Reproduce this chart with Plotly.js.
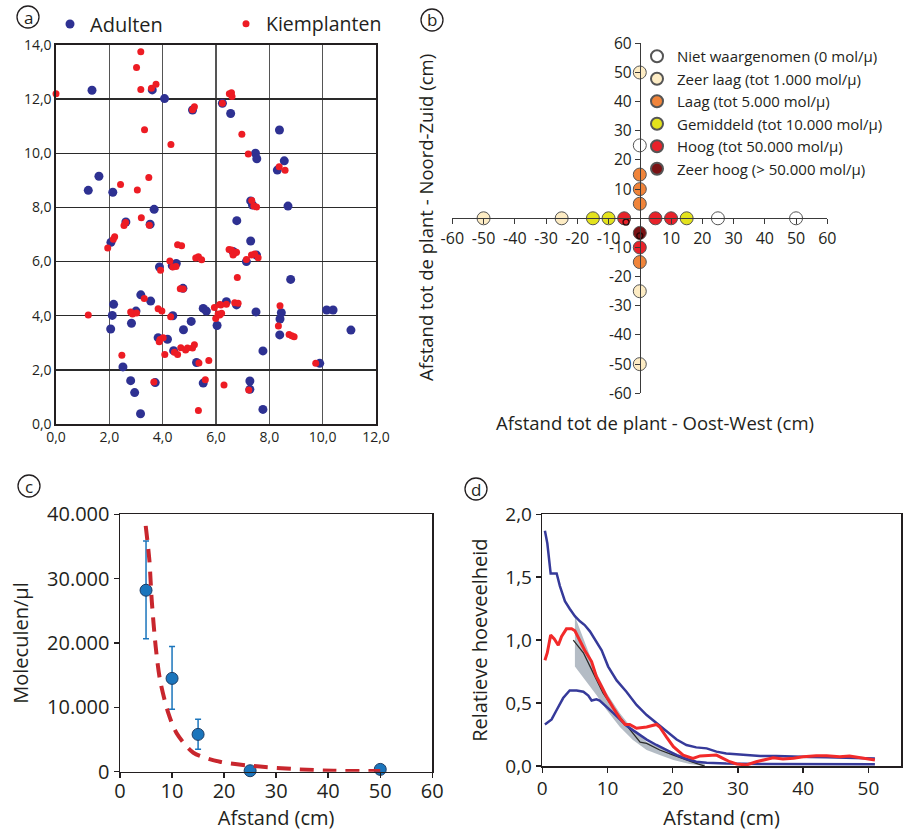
<!DOCTYPE html>
<html>
<head>
<meta charset="utf-8">
<script src="https://cdn.plot.ly/plotly-3.0.1.min.js"></script>
<style>html,body{margin:0;padding:0;background:#fff;}#chart{width:911px;height:833px;}</style>
</head>
<body>
<div id="chart"></div>
<script>
// ---------- Panel a: positions of adults and seedlings ----------
const adultX = [1.35,3.61,4.07,6.24,6.55,5.12,1.61,1.21,2.13,3.68,3.53,2.62,8.38,7.48,7.53,8.56,8.3,7.3,7.37,8.7,6.78,2.06,3.88,4.36,4.51,4.76,3.18,3.55,2.16,2.11,2.05,3.0,2.83,4.38,5.07,4.78,3.83,4.18,4.41,5.27,2.51,2.8,2.95,3.72,5.52,3.17,6.39,5.52,5.64,6.04,7.3,6.64,7.52,7.14,8.8,6.77,7.5,8.45,8.4,8.39,10.15,10.39,11.06,7.76,9.89,7.27,7.27,7.76];
const adultY = [12.33,12.34,12.02,11.85,11.47,11.6,9.15,8.63,8.56,7.93,7.38,7.46,10.86,10.0,9.8,9.72,9.38,8.24,8.09,8.05,7.51,6.71,5.8,5.85,5.93,5.01,4.77,4.54,4.42,4.01,3.51,4.17,3.72,4.0,3.79,3.48,3.19,3.13,2.71,2.27,2.11,1.6,1.16,1.53,1.51,0.38,4.52,4.27,4.17,3.64,6.76,6.37,6.24,6.0,5.34,4.4,4.14,4.11,3.88,3.29,4.21,4.21,3.47,2.7,2.24,1.59,1.28,0.54];
const seedX = [0.0,3.18,3.02,3.18,3.58,3.75,3.32,4.31,5.12,5.19,6.24,6.5,6.58,6.6,2.42,3.05,3.48,6.97,7.21,8.37,8.59,7.34,7.42,7.52,2.61,2.55,3.2,3.5,2.2,2.15,1.94,4.56,4.71,3.92,4.27,4.38,4.5,5.24,5.34,5.46,4.66,4.77,3.31,1.21,2.8,2.87,3.02,3.83,3.97,4.3,3.87,4.02,3.9,4.08,4.44,4.56,4.68,4.86,4.93,5.12,5.19,5.36,5.73,2.47,3.67,5.6,5.34,5.94,6.14,6.21,6.14,5.99,6.08,6.3,6.49,6.58,6.64,6.7,6.77,7.33,7.45,7.58,7.14,6.8,6.7,6.83,6.39,6.18,8.4,8.34,8.74,8.84,8.93,9.74,7.23];
const seedY = [12.2,13.75,13.17,12.36,12.4,12.55,10.87,10.32,11.61,11.72,11.85,12.2,12.24,12.1,8.85,8.64,9.11,10.7,9.97,9.5,9.37,8.26,8.05,8.02,7.44,7.33,7.62,7.34,6.92,6.82,6.5,6.62,6.58,5.68,6.02,5.8,5.82,6.13,6.18,6.07,5.0,4.99,4.64,4.03,4.14,4.06,4.1,4.26,4.17,3.96,3.04,3.19,3.12,2.57,2.65,2.57,2.82,2.73,2.81,2.81,2.93,2.25,2.35,2.54,1.55,1.63,0.5,4.3,4.41,4.09,4.03,3.9,4.06,1.44,6.45,6.43,6.24,6.31,6.34,6.24,6.28,6.14,6.08,5.41,4.48,4.46,4.42,4.4,4.37,3.62,3.31,3.26,3.22,2.24,1.26];
const aTicksX = [0,2,4,6,8,10,12];
const aTicksY = [0,2,4,6,8,10,12,14];

// ---------- Panel b: concentration classes along two transects ----------
const bNames = ['Niet waargenomen (0 mol/µ)','Zeer laag (tot 1.000 mol/µ)','Laag (tot 5.000 mol/µ)','Gemiddeld (tot 10.000 mol/µ)','Hoog (tot 50.000 mol/µ)','Zeer hoog (> 50.000 mol/µ)'];
const bX = [[0,25,50],[0,-50,-25,0,0],[0,0,0,0],[-15,-10,15],[-5,5,10,0],[0]];
const bY = [[25,0,0],[50,0,0,-25,-50],[15,10,5,-15],[0,0,0],[0,0,0,-10],[-5]];
const bSmallX = [-4.4,0];
const bSmallY = [-1.3,-6];
const bTicks = [-60,-50,-40,-30,-20,-10,10,20,30,40,50,60];
const bTickText = ['-60','-50','-40','-30','-20','-10','10','20','30','40','50','60'];

// ---------- Panel c: molecules vs distance ----------
const cDist = [5,10,15,25,50];
const cMean = [28200,14500,5800,150,360];
const cErrPlus = [7650,4950,2350,0,0];
const cErrMinus = [7550,4800,2300,0,0];
const cFitX = [4.94,5.64,6.09,6.86,7.69,9.3,10.9,14.1,19.2,25.6,34.6,41,50];
const cFitY = [38200,32900,26700,19400,14250,9065,5960,2950,1550,880,360,155,100];
const cTicksY = [0,10000,20000,30000,40000];

// ---------- Panel d: relative amount vs distance ----------
const dUpperX = [0.4,0.77,1.28,2.2,2.7,3.47,4.2,5.0,5.77,6.5,7.3,8.3,9.1,10.1,11.4,12.9,14.45,16,17.5,19.05,20.6,22.1,23.6,25.2,26.7,28.2,29.8,31.3,33.4,35.9,38.5,41,43.6,46.1,48.7,51];
const dUpperY = [1.87,1.77,1.53,1.53,1.43,1.31,1.25,1.19,1.15,1.12,1.07,0.99,0.92,0.79,0.68,0.59,0.485,0.405,0.34,0.27,0.21,0.167,0.148,0.14,0.114,0.10,0.095,0.085,0.08,0.08,0.074,0.072,0.069,0.066,0.064,0.06];
const dLowerX = [0.4,1.43,2.2,3.2,4.2,5.26,6.3,7.05,7.56,8.3,8.8,9.9,10.9,11.9,12.9,14.45,16,17.5,19.05,20.6,22.1,23.6,25.2,28.2,33.3,38.5,43.6,51];
const dLowerY = [0.33,0.37,0.445,0.54,0.6,0.6,0.59,0.56,0.52,0.53,0.52,0.47,0.42,0.37,0.32,0.265,0.21,0.167,0.127,0.087,0.056,0.034,0.026,0.02,0.016,0.016,0.013,0.013];
const dRedX = [0.4,0.77,1.28,1.84,2.45,2.96,3.7,4.5,5.0,5.77,6.5,7.56,8.3,9.1,9.86,10.9,11.9,12.7,13.4,14.45,16,17.5,18,19.05,20.1,21.6,23.1,24.2,25.7,26.7,27.7,28.75,29.8,31.3,32.8,34.4,35.4,36.9,38.5,40,42,43.6,45.6,47.1,48.7,51];
const dRedY = [0.84,0.9,1.04,1.01,0.96,1.03,1.09,1.09,1.075,1.0,0.92,0.83,0.71,0.63,0.55,0.46,0.38,0.33,0.33,0.30,0.31,0.33,0.31,0.23,0.154,0.087,0.061,0.08,0.087,0.087,0.061,0.034,0.016,0.008,0.034,0.056,0.066,0.056,0.061,0.074,0.082,0.082,0.074,0.08,0.069,0.048];
const dModelX = [4.75,6.3,7.8,9.3,11.4,13.4,15,16,18,20.1,22.1,23.6,24.9];
const dModelY = [1.0,0.9,0.74,0.58,0.42,0.29,0.19,0.18,0.127,0.087,0.048,0.02,0.0];
const dBandX = [5,6.8,8.3,9.86,11.9,13.9,16,18,20.1,22.6,24.9];
const dBandHi = [1.19,0.95,0.74,0.58,0.42,0.29,0.19,0.15,0.106,0.06,0.016];
const dBandLo = [0.79,0.67,0.565,0.445,0.31,0.207,0.127,0.087,0.048,0.016,0.0];
const dTicksX = [0,10,20,30,40,50];
const dTicksY = [0,0.5,1,1.5,2];

// ---------- styles ----------
const W = 911, H = 833;
const px = v => v / W;
const py = v => 1 - v / H;
const ink = '#231f20';
const FONT = 'Open Sans, sans-serif';
const bColors = ['#ffffff','#fdecc4','#f0843a','#e3e21c','#e8222a','#7a1214'];

const traces = [];
// panel a
traces.push({x: adultX, y: adultY, xaxis:'x', yaxis:'y', type:'scatter', mode:'markers', name:'Adulten',
  legend:'legend2', cliponaxis:false,
  marker:{color:'#2e3192', size:9, line:{width:0}}});
traces.push({x: seedX, y: seedY, xaxis:'x', yaxis:'y', type:'scatter', mode:'markers', name:'Kiemplanten',
  legend:'legend3', cliponaxis:false,
  marker:{color:'#ed1c24', size:7, line:{width:0}}});
// panel b
bNames.forEach((n, i) => {
  traces.push({x: bX[i], y: bY[i], xaxis:'x2', yaxis:'y2', type:'scatter', mode:'markers', name:n,
    legend:'legend', cliponaxis:false,
    marker:{color:bColors[i], size:13, line:{color:'#555', width:1}}});
});
traces.push({x: bSmallX, y: bSmallY, xaxis:'x2', yaxis:'y2', type:'scatter', mode:'markers', showlegend:false,
  cliponaxis:false, marker:{symbol:'circle-open', color:'#2a0505', size:6, line:{width:1.3}}});
// panel c
traces.push({x: cDist, y: cMean, xaxis:'x3', yaxis:'y3', type:'scatter', mode:'markers', showlegend:false,
  cliponaxis:false,
  error_y:{type:'data', symmetric:false, array:cErrPlus, arrayminus:cErrMinus, color:'#1b75bc', thickness:1.5, width:3},
  marker:{color:'#1b75bc', size:12, line:{color:'#1d3d66', width:1}}});
traces.push({x: cFitX, y: cFitY, xaxis:'x3', yaxis:'y3', type:'scatter', mode:'lines', showlegend:false,
  line:{color:'#c8262d', width:4, dash:'14px,9px', shape:'spline', smoothing:0.8}});
// panel d
traces.push({x: dBandX, y: dBandLo, xaxis:'x4', yaxis:'y4', type:'scatter', mode:'lines', showlegend:false,
  line:{width:0, color:'rgba(0,0,0,0)'}});
traces.push({x: dBandX, y: dBandHi, xaxis:'x4', yaxis:'y4', type:'scatter', mode:'lines', showlegend:false,
  fill:'tonexty', fillcolor:'rgba(140,152,166,0.65)', line:{width:0, color:'rgba(0,0,0,0)'}});
traces.push({x: dModelX, y: dModelY, xaxis:'x4', yaxis:'y4', type:'scatter', mode:'lines', showlegend:false,
  line:{color:'#2b2b2b', width:1.3}});
traces.push({x: dUpperX, y: dUpperY, xaxis:'x4', yaxis:'y4', type:'scatter', mode:'lines', showlegend:false,
  line:{color:'#363a9a', width:2.5}});
traces.push({x: dLowerX, y: dLowerY, xaxis:'x4', yaxis:'y4', type:'scatter', mode:'lines', showlegend:false,
  line:{color:'#363a9a', width:2.5}});
traces.push({x: dRedX, y: dRedY, xaxis:'x4', yaxis:'y4', type:'scatter', mode:'lines', showlegend:false,
  line:{color:'#f22a2a', width:3}});

const frameAxis = (extra) => Object.assign({
  showline:true, mirror:true, linecolor:ink, linewidth:1.5, zeroline:false, showgrid:false,
  ticks:'outside', ticklen:5, tickcolor:ink, tickwidth:1.5, fixedrange:true, automargin:false
}, extra);

const layout = {
  width: W, height: H,
  margin:{l:0, r:0, t:0, b:0},
  paper_bgcolor:'#ffffff', plot_bgcolor:'rgba(0,0,0,0)',
  separators:',.',
  font:{family:FONT, color:ink, size:14},
  showlegend:true,
  // panel a
  xaxis:{domain:[px(56), px(376)], range:[0,12], tickvals:aTicksX, tickformat:'.1f', anchor:'y',
    showgrid:true, gridcolor:'#555555', gridwidth:1.3, showline:true, mirror:true, linecolor:ink, linewidth:1.6,
    zeroline:false, ticks:'', tickfont:{size:14, color:ink}, fixedrange:true},
  yaxis:{domain:[py(424), py(45)], range:[0,14], tickvals:aTicksY, tickformat:'.1f', anchor:'x',
    showgrid:true, gridcolor:'#2a2a2a', gridwidth:1.3, showline:true, mirror:true, linecolor:ink, linewidth:1.6,
    zeroline:false, ticks:'', tickfont:{size:14, color:ink}, fixedrange:true},
  // panel b
  xaxis2:{domain:[px(452.3), px(827.3)], range:[-60,60], tickvals:bTicks, ticktext:bTickText, anchor:'free', position:py(218),
    showline:true, linecolor:'#3a3a3a', linewidth:1.3, ticks:'outside', ticklen:5, tickcolor:'#3a3a3a',
    showgrid:false, zeroline:false, tickfont:{size:16, color:ink}, fixedrange:true},
  yaxis2:{domain:[py(393.3), py(43.3)], range:[-60,60], tickvals:bTicks, ticktext:bTickText, anchor:'free', position:px(639.8),
    showline:true, linecolor:'#3a3a3a', linewidth:1.3, ticks:'outside', ticklen:5, tickcolor:'#3a3a3a',
    showgrid:false, zeroline:false, tickfont:{size:15.5, color:ink}, fixedrange:true},
  // panel c
  xaxis3: frameAxis({domain:[px(120), px(432.3)], range:[0,60], dtick:10, tick0:0, anchor:'y3', ticklabelstandoff:-4,
    tickfont:{size:20, color:ink}, title:{text:'Afstand (cm)', font:{size:20, color:ink}, standoff:8}}),
  yaxis3: frameAxis({domain:[py(771.7), py(514.3)], range:[0,40000], tickvals:cTicksY, tickformat:',d', anchor:'x3',
    tickfont:{size:20, color:ink}, title:{text:'Moleculen/µl', font:{size:20, color:ink}, standoff:13}}),
  // panel d
  xaxis4: frameAxis({domain:[px(542.3), px(901)], range:[0,55], tickvals:dTicksX, anchor:'y4',
    tickfont:{size:19, color:ink}, title:{text:'Afstand (cm)', font:{size:20, color:ink}, standoff:10}}),
  yaxis4: frameAxis({domain:[py(766), py(514.3)], range:[0,2], tickvals:dTicksY, tickformat:'.1f', anchor:'x4',
    tickfont:{size:19, color:ink}, title:{text:'Relatieve hoeveelheid', font:{size:20, color:ink}, standoff:12}}),
  legend:{x:px(637), xanchor:'left', y:py(40), yanchor:'top', bgcolor:'rgba(0,0,0,0)', borderwidth:0,
    traceorder:'normal', font:{size:15, color:ink}, itemsizing:'constant', tracegroupgap:0, itemclick:false, itemdoubleclick:false},
  legend2:{x:px(50), xanchor:'left', y:py(24), yanchor:'middle', orientation:'h', bgcolor:'rgba(0,0,0,0)',
    font:{size:20, color:ink}, itemclick:false, itemdoubleclick:false},
  legend3:{x:px(226), xanchor:'left', y:py(24), yanchor:'middle', orientation:'h', bgcolor:'rgba(0,0,0,0)',
    font:{size:19.5, color:ink}, itemclick:false, itemdoubleclick:false},
  annotations:[
    {xref:'paper', yref:'paper', x:px(655), y:py(423), text:'Afstand tot de plant - Oost-West (cm)', showarrow:false,
      font:{size:18.5, color:ink}, xanchor:'center', yanchor:'middle'},
    {xref:'paper', yref:'paper', x:px(425), y:py(218), text:'Afstand tot de plant - Noord-Zuid (cm)', showarrow:false,
      textangle:-90, font:{size:18.5, color:ink}, xanchor:'center', yanchor:'middle'},
    {xref:'paper', yref:'paper', x:px(28), y:py(17), text:'a', showarrow:false, font:{size:17, color:ink}, xanchor:'center', yanchor:'middle'},
    {xref:'paper', yref:'paper', x:px(432), y:py(20), text:'b', showarrow:false, font:{size:17, color:ink}, xanchor:'center', yanchor:'middle'},
    {xref:'paper', yref:'paper', x:px(29), y:py(486), text:'c', showarrow:false, font:{size:17, color:ink}, xanchor:'center', yanchor:'middle'},
    {xref:'paper', yref:'paper', x:px(476), y:py(489), text:'d', showarrow:false, font:{size:17, color:ink}, xanchor:'center', yanchor:'middle'}
  ],
  shapes:[
    {type:'circle', xref:'paper', yref:'paper', x0:px(17), x1:px(39), y0:py(28), y1:py(6), line:{color:ink, width:1.3}},
    {type:'circle', xref:'paper', yref:'paper', x0:px(421), x1:px(443), y0:py(31), y1:py(9), line:{color:ink, width:1.3}},
    {type:'circle', xref:'paper', yref:'paper', x0:px(18), x1:px(40), y0:py(497), y1:py(475), line:{color:ink, width:1.3}},
    {type:'circle', xref:'paper', yref:'paper', x0:px(465), x1:px(487), y0:py(500), y1:py(478), line:{color:ink, width:1.3}}
  ]
};

Plotly.newPlot('chart', traces, layout, {displayModeBar:false, staticPlot:true});
</script>
</body>
</html>
